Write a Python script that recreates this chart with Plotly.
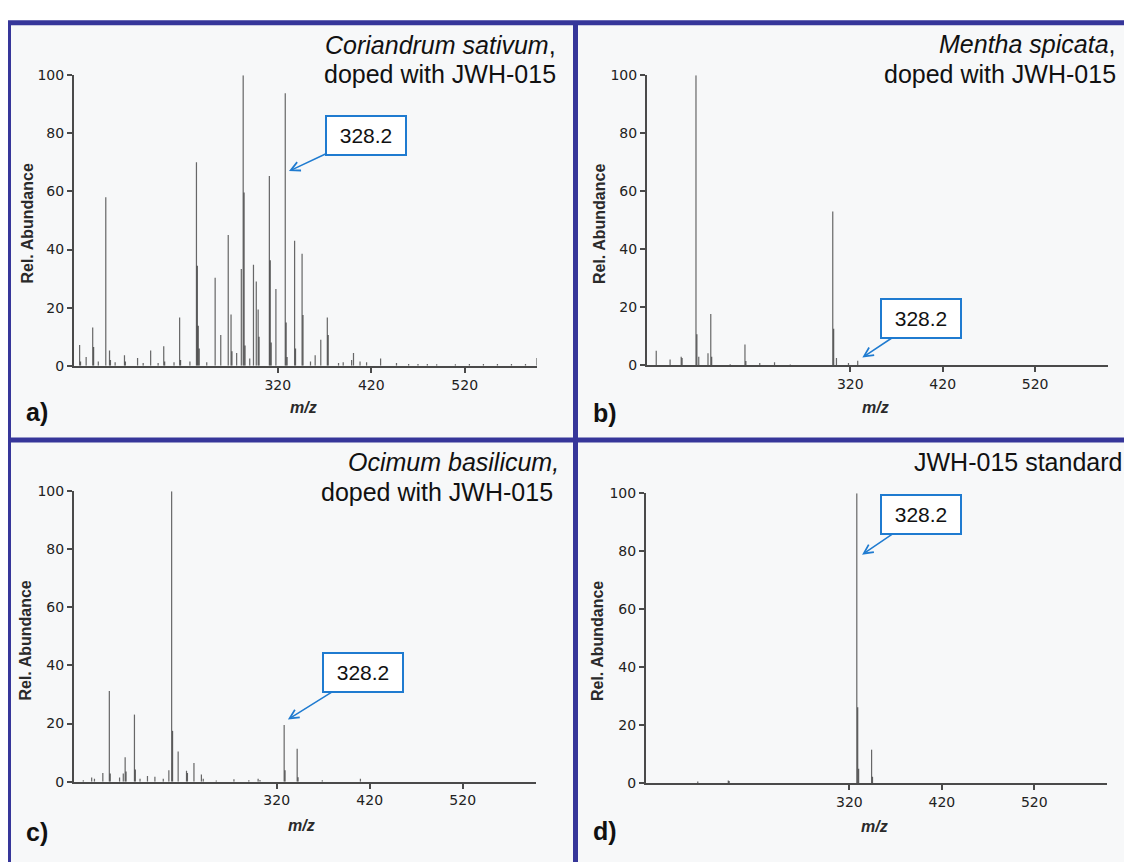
import plotly.graph_objects as go

# the page body keeps its default 8px margin, so the figure starts 8px in
W, H = 1124, 854
OFF = 8

# a) Coriandrum sativum, doped with JWH-015
a_mz = [108, 109, 115, 122, 123, 128, 136, 140, 141, 146, 156, 157, 170, 176, 184, 192,
        198, 199, 209, 215, 216, 226, 233, 234, 235, 236, 244, 253, 259, 267, 270, 271,
        276, 281, 283, 284, 285, 290, 294, 297, 299, 300, 311, 312, 313, 318, 328, 329,
        330, 338, 339, 346, 347, 355, 360, 366, 373, 374, 385, 390, 399, 401, 408, 415,
        430, 447, 460, 470, 480, 490, 510, 525, 540, 555, 570, 585, 597]
a_int = [7.2, 1.5, 3.0, 13.2, 6.5, 1.5, 58, 5.3, 2.0, 1.2, 3.6, 1.5, 2.7, 1.0, 5.3, 1.0,
         6.7, 1.5, 1.2, 16.6, 2.0, 1.5, 70, 34.4, 13.8, 6.0, 1.2, 30.3, 10.6, 45, 17.7, 5.0,
         4.4, 33.3, 100, 59.6, 7.0, 2.5, 34.8, 29, 19.4, 10, 65.3, 36.3, 8.0, 26.4, 93.8, 14.9,
         3.0, 43, 6.0, 38.6, 17.5, 1.5, 3.6, 9.0, 16.6, 10.6, 1.0, 1.2, 2.0, 4.4, 1.5, 1.2,
         2.5, 1.0, 0.6, 0.6, 0.6, 0.5, 0.5, 0.6, 0.6, 0.6, 0.6, 0.6, 2.7]

# b) Mentha spicata, doped with JWH-015
b_mz = [110, 125, 137, 138, 153, 154, 156, 166, 169, 170, 190, 206, 207, 222, 238, 255,
        301, 302, 305, 318, 328]
b_int = [5.0, 2.0, 3.0, 2.5, 100, 10.7, 3.0, 4.2, 17.7, 3.0, 0.4, 7.2, 1.5, 0.8, 1.1, 0.3,
         53, 12.6, 2.5, 0.8, 1.6]

# c) Ocimum basilicum, doped with JWH-015
c_mz = [112, 121, 124, 133, 140, 141, 151, 155, 157, 158, 167, 168, 173, 181, 189, 198,
        204, 207, 208, 214, 223, 224, 231, 239, 241, 255, 274, 290, 300, 302, 328, 329,
        342, 343, 369, 410]
c_int = [0.5, 1.4, 1.0, 3.0, 31.2, 2.8, 1.4, 2.8, 8.4, 3.5, 23.1, 4.2, 1.0, 2.0, 1.7, 1.0,
         3.9, 100, 17.5, 10.4, 3.8, 3.0, 6.4, 2.5, 1.0, 0.4, 0.8, 0.5, 1.0, 0.6, 19.5, 3.9,
         11.3, 1.5, 0.5, 1.0]

# d) JWH-015 standard
d_mz = [156, 189, 190, 328, 329, 330, 344, 345]
d_int = [0.6, 1.0, 0.8, 100, 26.2, 5.0, 11.6, 2.3]

x_ticks = [320, 420, 520]
y_ticks = [0, 20, 40, 60, 80, 100]
callout_text = "328.2"

BORDER = "#36369a"
PANEL_BG = "#f7f8f9"
STICK = "rgba(15,15,15,0.62)"
AXIS = "#4a4a4a"
BLUE = "#1f7bd0"
TXT_FONT = "Liberation Sans, Arial, Helvetica, sans-serif"


def fx(px):
    # page pixel -> paper fraction
    return (px - OFF) / W


def fy(py):
    return 1 - (py - OFF) / H


# axis box in page pixels, axis ranges, text placement
panels = [
    dict(mz=a_mz, inten=a_int, x0=74, x1=536.7, y0=68.3, y1=364.5, xr=[102, 597],
         title=[("<i>Coriandrum sativum</i>,", 558, 38), ("doped with JWH-015", 558, 67.5)],
         label=("a)", 24, 412), mz_lab=(303, 407), rel=(27.5, 220),
         arrow=(332, 67, 77, -36)),
    dict(mz=b_mz, inten=b_int, x0=647, x1=1107.6, y0=68.3, y1=364, xr=[100, 598.4],
         title=[("<i>Mentha spicata</i>,", 1118, 37), ("doped with JWH-015", 1118, 67)],
         label=("b)", 591, 413), mz_lab=(875, 407), rel=(599, 220),
         arrow=(333, 2.7, 59, -39)),
    dict(mz=c_mz, inten=c_int, x0=74, x1=535.7, y0=492.3, y1=788.3, xr=[102, 598.5],
         title=[("<i>Ocimum basilicum,</i>", 560.5, 463), ("doped with JWH-015", 555, 493)],
         label=("c)", 24, 840), mz_lab=(301.5, 833), rel=(25.5, 645),
         arrow=(332, 21.4, 75, -47)),
    dict(mz=d_mz, inten=d_int, x0=646, x1=1106.7, y0=494.3, y1=790, xr=[100, 598.3],
         title=[("JWH-015 standard", 1124, 463)],
         label=("d)", 591, 839), mz_lab=(874, 834), rel=(597, 645),
         arrow=(333.7, 78.8, 59, -40)),
]

fig = go.Figure()
annotations = []
layout_axes = {}

for i, p in enumerate(panels, start=1):
    sfx = "" if i == 1 else str(i)
    xa, ya = "x" + sfx, "y" + sfx

    fig.add_trace(go.Bar(
        x=p["mz"], y=p["inten"], width=1.3,
        marker=dict(color=STICK, line=dict(width=0)),
        xaxis=xa, yaxis=ya, showlegend=False,
        hovertemplate="m/z %{x}<br>%{y}<extra></extra>",
    ))

    tickfont = dict(family="DejaVu Sans", size=14, color="#222")
    layout_axes["xaxis" + sfx] = dict(
        domain=[fx(p["x0"]), fx(p["x1"])], range=p["xr"], anchor=ya,
        tickvals=x_ticks, ticks="outside", ticklen=5, tickwidth=1.5, tickcolor=AXIS,
        showline=True, linecolor=AXIS, linewidth=2, showgrid=False, zeroline=False,
        tickfont=tickfont,
    )
    layout_axes["yaxis" + sfx] = dict(
        domain=[fy(p["y1"]), fy(p["y0"])], range=[0, 100], anchor=xa,
        tickvals=y_ticks, ticks="outside", ticklen=5, tickwidth=1.5, tickcolor=AXIS,
        showline=True, linecolor=AXIS, linewidth=2, showgrid=False, zeroline=False,
        tickfont=tickfont,
    )

    for text, rx, cy in p["title"]:
        annotations.append(dict(
            text=text, x=fx(rx), y=fy(cy), xref="paper", yref="paper",
            xanchor="right", yanchor="middle", showarrow=False,
            font=dict(family=TXT_FONT, size=25, color="#111")))

    lab, lx, ly = p["label"]
    annotations.append(dict(
        text="<b>%s</b>" % lab, x=fx(lx), y=fy(ly), xref="paper", yref="paper",
        xanchor="left", yanchor="middle", showarrow=False,
        font=dict(family=TXT_FONT, size=25, color="#111")))

    annotations.append(dict(
        text="<b><i>m/z</i></b>", x=fx(p["mz_lab"][0]), y=fy(p["mz_lab"][1]),
        xref="paper", yref="paper", xanchor="center", yanchor="middle", showarrow=False,
        font=dict(family=TXT_FONT, size=16, color="#2a2a2a")))

    annotations.append(dict(
        text="<b>Rel. Abundance</b>", x=fx(p["rel"][0]), y=fy(p["rel"][1]),
        xref="paper", yref="paper", xanchor="center", yanchor="middle",
        showarrow=False, textangle=-90,
        font=dict(family=TXT_FONT, size=16, color="#2a2a2a")))

    hx, hy, ax, ay = p["arrow"]
    annotations.append(dict(
        text=callout_text, x=hx, y=hy, xref=xa, yref=ya, ax=ax, ay=ay,
        showarrow=True, arrowhead=5, arrowsize=1.2, arrowwidth=1.5, arrowcolor=BLUE,
        bgcolor="white", bordercolor=BLUE, borderwidth=2, borderpad=2,
        width=74, height=33, align="center",
        font=dict(family=TXT_FONT, size=21, color="#111")))

shapes = [
    dict(type="rect", xref="paper", yref="paper", x0=fx(7), x1=1.02, y0=-0.02, y1=fy(15),
         fillcolor=PANEL_BG, line=dict(width=0), layer="below"),
    dict(type="line", xref="paper", yref="paper", x0=fx(5), x1=1.02, y0=fy(15), y1=fy(15),
         line=dict(color=BORDER, width=5)),
    dict(type="line", xref="paper", yref="paper", x0=fx(8.5), x1=fx(8.5), y0=-0.02, y1=fy(13),
         line=dict(color=BORDER, width=5)),
    dict(type="line", xref="paper", yref="paper", x0=fx(575.5), x1=fx(575.5), y0=-0.02, y1=fy(13),
         line=dict(color=BORDER, width=5)),
    dict(type="line", xref="paper", yref="paper", x0=fx(5), x1=1.02, y0=fy(440), y1=fy(440),
         line=dict(color=BORDER, width=5)),
]

fig.update_layout(
    width=W, height=H,
    margin=dict(l=0, r=0, t=0, b=0),
    paper_bgcolor="white",
    plot_bgcolor=PANEL_BG,
    barmode="overlay",
    showlegend=False,
    annotations=annotations,
    shapes=shapes,
    **layout_axes,
)

fig.write_html("out.html")
